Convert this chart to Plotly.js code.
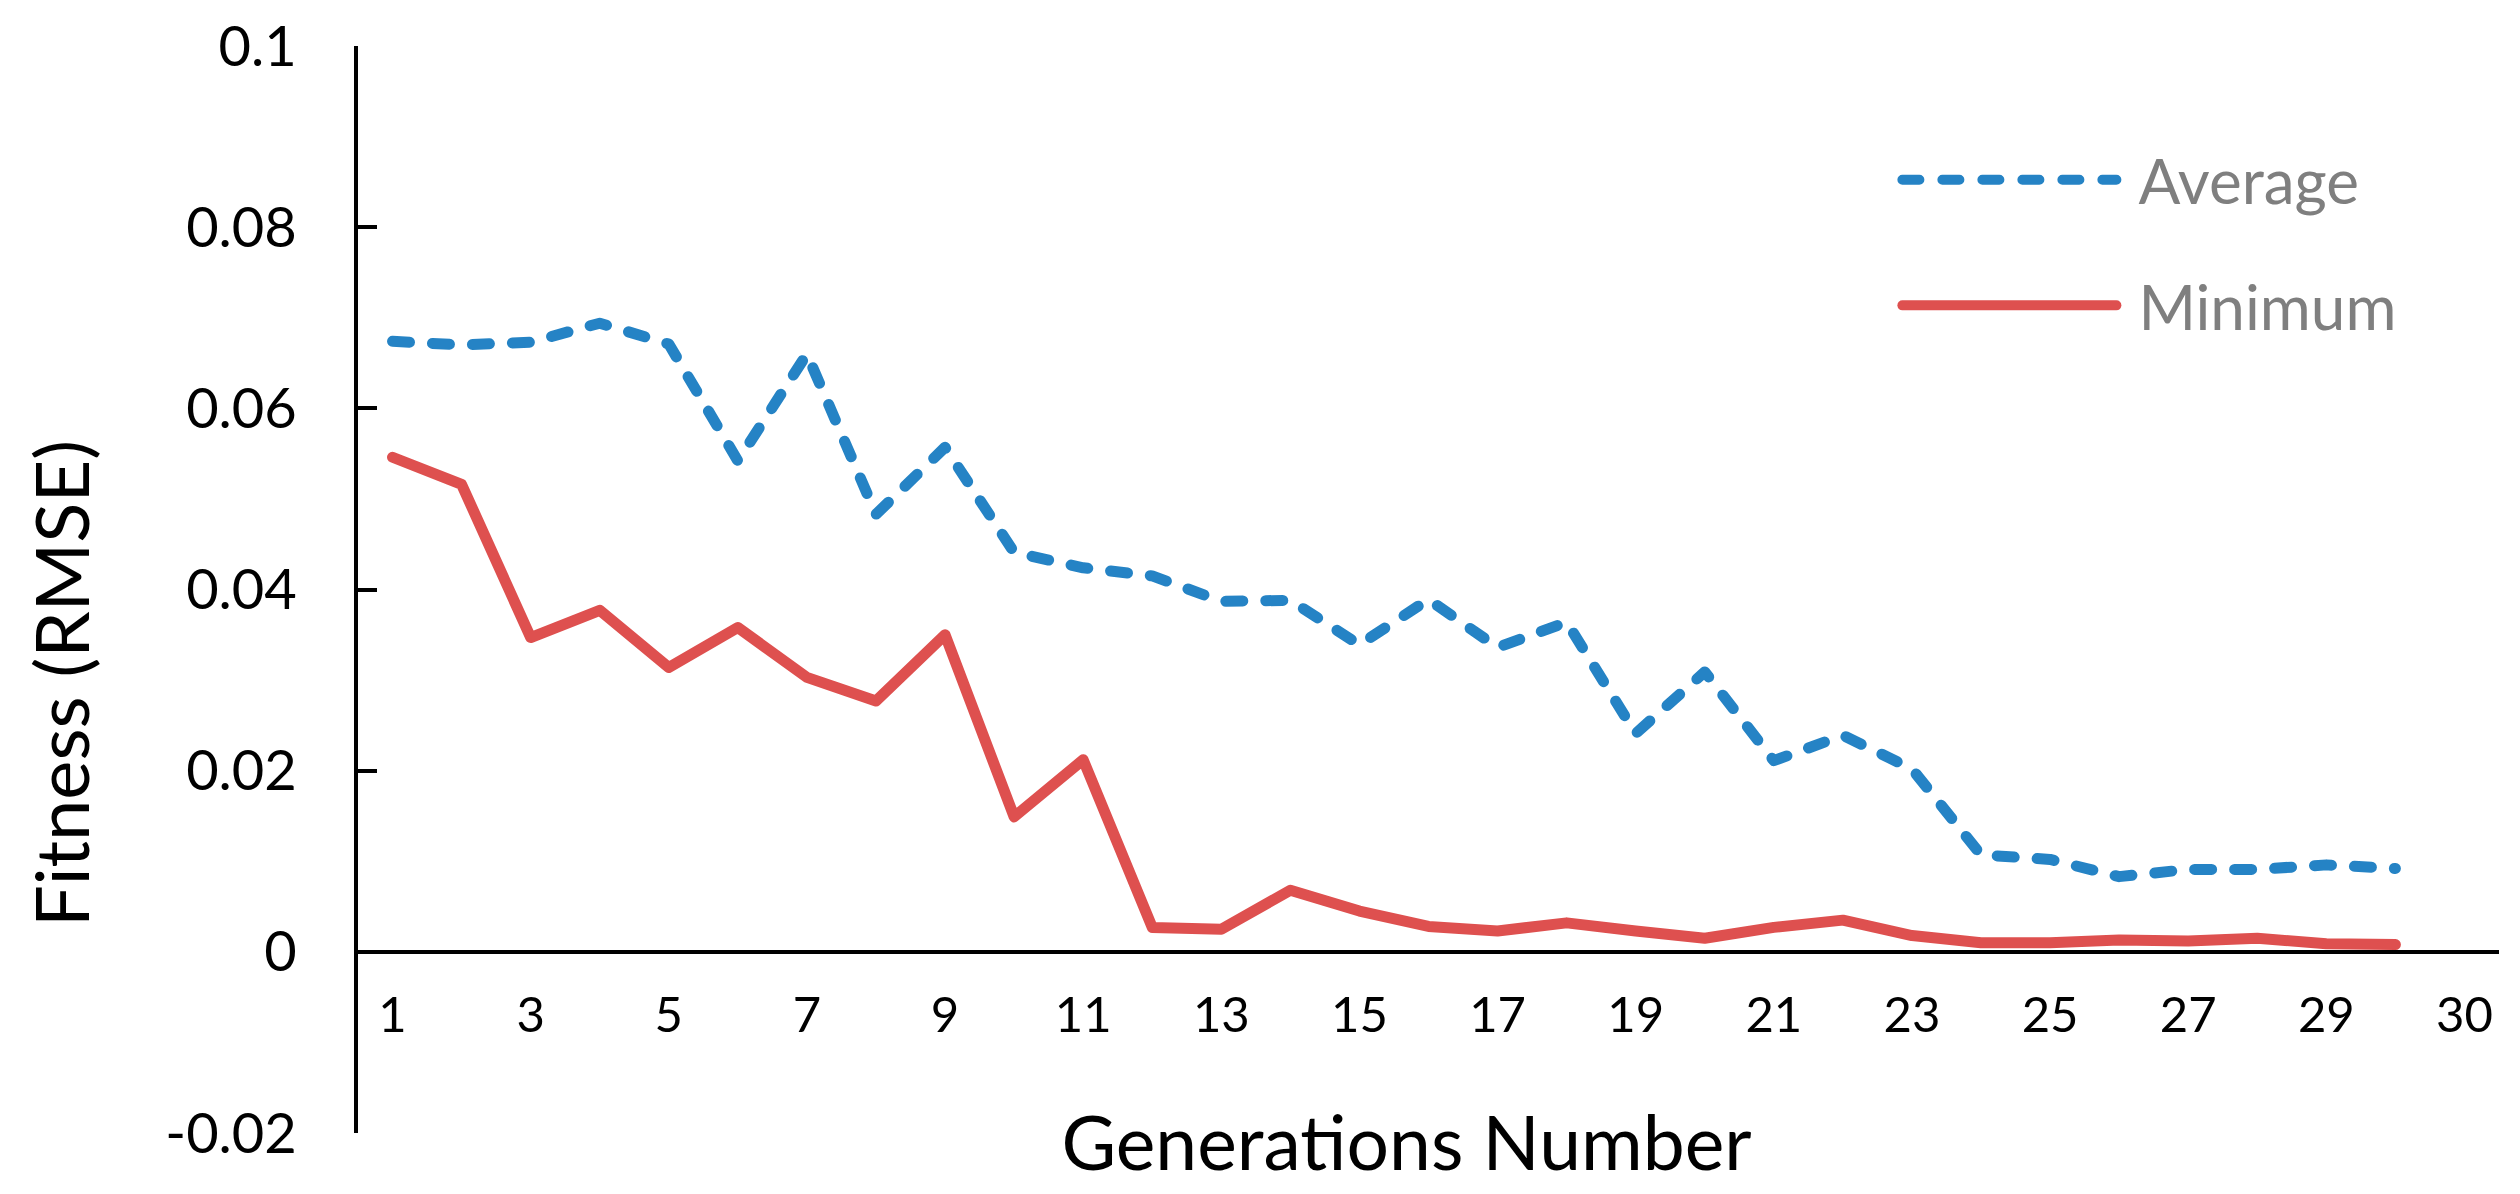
<!DOCTYPE html>
<html>
<head>
<meta charset="utf-8">
<script src="https://cdn.plot.ly/plotly-3.0.1.min.js"></script>
<style>
  html, body { margin: 0; padding: 0; background: #ffffff; }
  #chart { width: 2520px; height: 1194px; }
  #chart path.js-line { stroke-linecap: round !important; stroke-linejoin: round !important; }
  #chart .legend .scrollbox { clip-path: none !important; }
  #chart .legendtext { transform: translateX(17px); }
  #chart .g-ytitle { transform: translateY(94px); }
  #chart .g-xtitle { transform: translateX(-22px); }
</style>
</head>
<body>
<div id="chart"></div>
<script>
// ---- Data ----
const generations = [1, 2, 3, 4, 5, 6, 7, 8, 9, 10, 11, 12, 13, 14, 15, 16, 17, 18, 19, 20, 21, 22, 23, 24, 25, 26, 27, 28, 29, 30];
const averageFitness = [0.0674, 0.0670, 0.0673, 0.0694, 0.0671, 0.0542, 0.0660, 0.0483, 0.0557, 0.0441, 0.0424, 0.0415, 0.0387, 0.0388, 0.0339, 0.0389, 0.0336, 0.0364, 0.0241, 0.0309, 0.0211, 0.0239, 0.0202, 0.0107, 0.0102, 0.0083, 0.0091, 0.0091, 0.0096, 0.0092];
const minimumFitness = [0.0546, 0.0516, 0.0347, 0.0377, 0.0314, 0.0358, 0.0303, 0.0277, 0.0350, 0.0149, 0.0212, 0.0027, 0.0025, 0.0068, 0.0045, 0.0028, 0.0023, 0.0032, 0.0023, 0.0015, 0.0027, 0.0035, 0.0018, 0.0010, 0.0010, 0.0013, 0.0012, 0.0015, 0.0009, 0.0008];
const seriesNames = ["Average", "Minimum"];

// axis ticks
const xTickPositions = [1, 3, 5, 7, 9, 11, 13, 15, 17, 19, 21, 23, 25, 27, 29, 31];
const xTickLabels = ["1", "3", "5", "7", "9", "11", "13", "15", "17", "19", "21", "23", "25", "27", "29", "30"];
const yTickValues = [-0.02, 0, 0.02, 0.04, 0.06, 0.08, 0.1];
const yTickLabels = ["-0.02", "0", "0.02", "0.04", "0.06", "0.08", "0.1"];

const xTitle = "Generations Number";
const yTitle = "Fitness (RMSE)";

// ---- Styling ----
const FONT = "Lato, 'Open Sans', sans-serif";
const blue = "#2583c5";
const red = "#de504f";

const yMin = -0.02, yMax = 0.1;

const traces = [
  {
    x: generations, y: averageFitness, name: seriesNames[0],
    type: "scatter", mode: "lines", legendgroup: "a",
    line: { color: blue, width: 11, dash: "17px,23px" },
    hoverinfo: "skip"
  },
  {
    x: generations, y: minimumFitness, name: seriesNames[1],
    type: "scatter", mode: "lines", legendgroup: "b",
    line: { color: red, width: 11 },
    hoverinfo: "skip"
  }
];

const layout = {
  width: 2520, height: 1194,
  paper_bgcolor: "#ffffff", plot_bgcolor: "#ffffff",
  margin: { l: 358, r: 21, t: 46, b: 61, pad: 0 },
  font: { family: FONT, color: "#000000" },
  showlegend: true,
  legend: {
    x: 0.719, y: 0.92, xanchor: "left", yanchor: "top",
    bgcolor: "rgba(0,0,0,0)", borderwidth: 0,
    font: { family: FONT, size: 62, color: "#7f7f7f" },
    itemwidth: 214, traceorder: "grouped", tracegroupgap: 42,
    itemclick: false, itemdoubleclick: false
  },
  xaxis: {
    range: [0.5, 31.5],
    anchor: "free", position: (0 - yMin) / (yMax - yMin),
    showline: false, zeroline: false, showgrid: false,
    ticks: "", tickmode: "array",
    tickvals: xTickPositions, ticktext: xTickLabels,
    tickfont: { family: FONT, size: 49, color: "#000000" },
    ticklabelstandoff: 30,
    title: { text: xTitle, font: { family: FONT, size: 75, color: "#000000" }, standoff: 76 },
    fixedrange: true
  },
  yaxis: {
    range: [yMin, yMax],
    showline: true, linecolor: "#000000", linewidth: 4,
    zeroline: true, zerolinecolor: "#000000", zerolinewidth: 4,
    showgrid: false,
    ticks: "inside", ticklen: 19, tickwidth: 4, tickcolor: "#000000",
    tickmode: "array", tickvals: yTickValues, ticktext: yTickLabels,
    tickfont: { family: FONT, size: 56, color: "#000000" },
    ticklabelstandoff: 46,
    title: { text: yTitle, font: { family: FONT, size: 74, color: "#000000" }, standoff: 52 },
    fixedrange: true
  }
};

function roundLineEnds() {
  document.querySelectorAll("#chart path.js-line").forEach(function (p) {
    p.style.strokeLinecap = "round";
    p.style.strokeLinejoin = "round";
  });
}

Plotly.newPlot("chart", traces, layout, { displayModeBar: false, staticPlot: true }).then(roundLineEnds);
</script>
</body>
</html>
